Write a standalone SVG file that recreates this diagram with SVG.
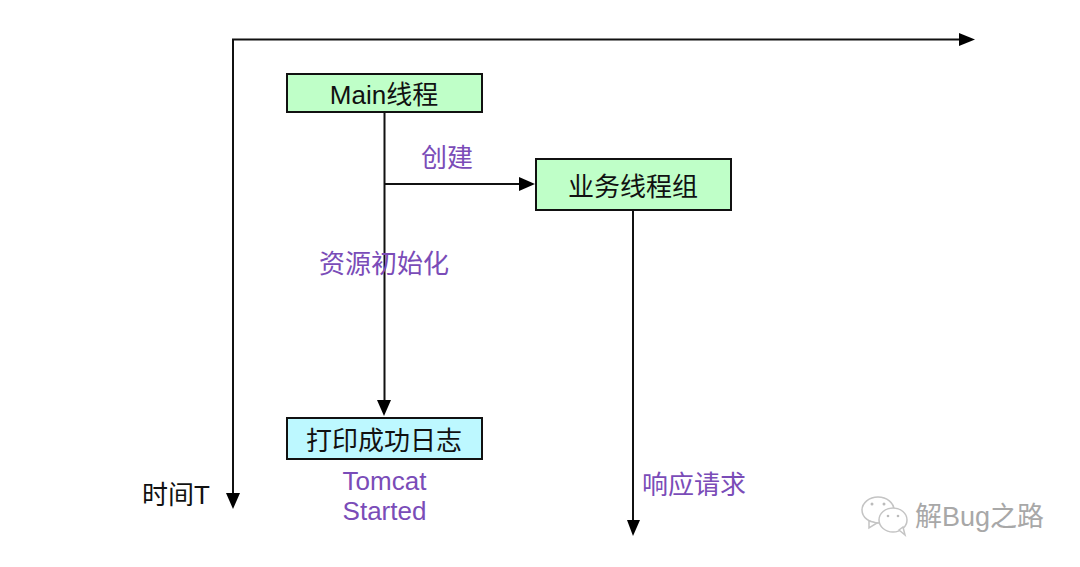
<svg xmlns="http://www.w3.org/2000/svg" width="1080" height="567" viewBox="0 0 1080 567">
<style>
text{font-family:"Liberation Sans","Noto Sans CJK SC",sans-serif;font-size:26px;text-anchor:middle;fill:#111}
.p{fill:#7a4cb8}
.b{stroke:#111;stroke-width:2}
.g{fill:#bfffc8}
.c{fill:#bdf8ff}
.l{fill:none;stroke:#111;stroke-width:2}
.h{fill:#000}
.w{font-size:27px;fill:#a8a8a8;text-anchor:start}
.wc{fill:#fff;stroke:#c4c4c4;stroke-width:1.5}
.e{fill:#bbb}
</style>
<rect width="1080" height="567" fill="#fff"/>
<g id="connectors">
<path class="l" d="M233 497V39.500H962"/>
<path class="h" d="M975 39.500L959 33V46Z"/>
<path class="h" d="M233 509L226 493H240Z"/>
<path class="l" d="M384.500 112V404"/>
<path class="h" d="M384 416L377 400H391Z"/>
<path class="l" d="M385 184H522"/>
<path class="h" d="M535 184L519 177V191Z"/>
<path class="l" d="M633 210V524"/>
<path class="h" d="M633 536L627 520H640Z"/>
</g>
<g id="main"><rect class="b g" x="287" y="74" width="195" height="38"/><text x="384" y="104">Main线程</text></g>
<g id="workers"><rect class="b g" x="536" y="159" width="195" height="51"/><text x="633" y="196">业务线程组</text></g>
<g id="log"><rect class="b c" x="287" y="418" width="195" height="41"/><text x="384" y="450">打印成功日志</text></g>
<g id="labels">
<text class="p" x="447" y="167">创建</text>
<text class="p" x="384" y="273">资源初始化</text>
<text class="p" x="384.500" y="490">Tomcat</text>
<text class="p" x="384.500" y="520">Started</text>
<text class="p" x="694" y="494">响应请求</text>
<text x="176" y="504">时间T</text>
</g>
<g id="watermark">
<ellipse class="wc" cx="878" cy="510" rx="16" ry="13"/>
<path class="wc" d="M869 521L869 528L877 523Z"/>
<circle class="e" cx="872" cy="504" r="1.500"/><circle class="e" cx="884" cy="504" r="1.500"/>
<ellipse class="wc" cx="893" cy="520" rx="14" ry="12"/>
<path class="wc" d="M899 530L905 535L903 527Z"/>
<circle class="e" cx="888" cy="516" r="1.300"/><circle class="e" cx="898" cy="516" r="1.300"/>
<text class="w" x="915" y="526">解Bug之路</text>
</g>
</svg>
